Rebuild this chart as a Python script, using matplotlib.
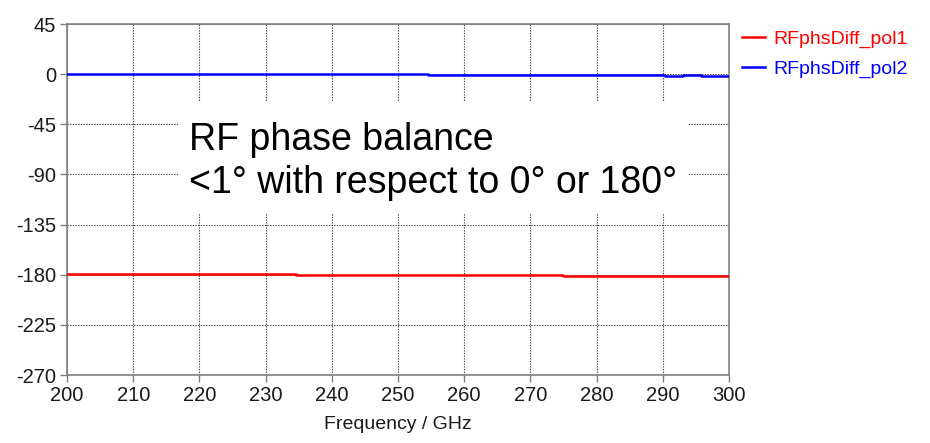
import matplotlib
matplotlib.use("Agg")
import matplotlib.pyplot as plt
from matplotlib.patches import Rectangle

# step edges (GHz) and levels (deg)
pol1_freq = [200.0, 234.6, 274.9, 300.0]
pol1_phase = [-179.7, -180.4, -181.0, -181.0]
pol2_freq = [200.0, 254.5, 290.4, 293.0, 295.8, 300.0]
pol2_phase = [0.0, -0.6, -1.3, -0.6, -1.3, -1.3]

x_ticks = list(range(200, 301, 10))
y_ticks = list(range(-270, 46, 45))

plt.rcParams["font.family"] = ["Liberation Sans", "DejaVu Sans"]
plt.rcParams["axes.unicode_minus"] = False

fig = plt.figure(figsize=(9.3, 4.43), dpi=100)
ax = fig.add_axes([67 / 930, 1 - 375 / 443, 662 / 930, 351 / 443])

ax.step(pol1_freq, pol1_phase, where="post", color="#ff0000", lw=1.8,
        label="RFphsDiff_pol1", zorder=4)
ax.step(pol2_freq, pol2_phase, where="post", color="#0000ff", lw=1.8,
        label="RFphsDiff_pol2", zorder=4)

ax.set_xlim(200, 300)
ax.set_ylim(-270, 45)
ax.set_xticks(x_ticks)
ax.set_yticks(y_ticks)
ax.tick_params(direction="out", length=5, width=1, color="#808080",
               labelsize=14.5, pad=3, labelcolor="#1a1a1a")
for sp in ax.spines.values():
    sp.set_color("#808080")
    sp.set_linewidth(1.2)
ax.grid(True, linestyle=(0, (1.2, 1.2)), color="#404040", linewidth=0.8)
ax.set_axisbelow(True)

ax.set_xlabel("Frequency / GHz", fontsize=14, labelpad=8, color="#1a1a1a")

# white annotation box covering the grid
ax.add_patch(Rectangle(((178 - 67) / 662, (375 - 213) / 351),
                       (688 - 178) / 662, (213 - 101) / 351,
                       transform=ax.transAxes, facecolor="white",
                       edgecolor="none", zorder=2))
ax.text((189 - 67) / 662, (375 - 150) / 351, "RF phase balance",
        transform=ax.transAxes, fontsize=27, ha="left", va="baseline",
        zorder=3)
ax.text((189 - 67) / 662, (375 - 193) / 351, "<1° with respect to 0° or 180°",
        transform=ax.transAxes, fontsize=27, ha="left", va="baseline",
        zorder=3)

ax.legend(loc="upper left", bbox_to_anchor=((742 - 67) / 662, (375 - 30) / 351),
          frameon=False, fontsize=14, handlelength=1.2, handletextpad=0.4,
          labelspacing=0.65, borderpad=0, borderaxespad=0,
          labelcolor="linecolor")

fig.savefig("out.png", dpi=100)
